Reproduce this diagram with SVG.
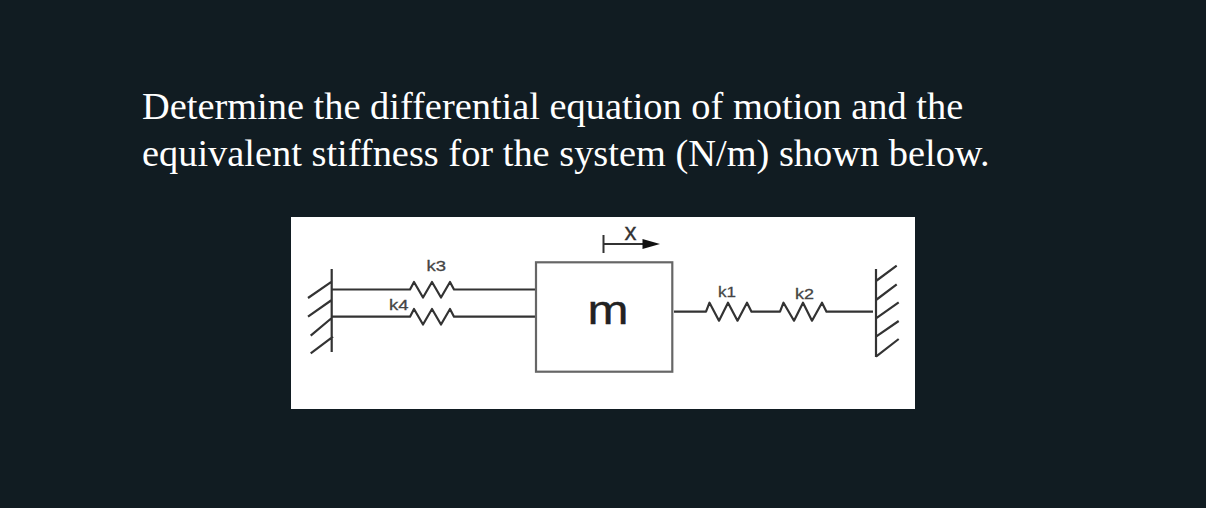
<svg xmlns="http://www.w3.org/2000/svg" width="1206" height="508" viewBox="0 0 1206 508">
<defs><style>
.t{font-family:"Liberation Serif",serif;font-size:38.4px;fill:#fff}
.l{font-family:"Liberation Sans",Arial,sans-serif;font-size:15.5px;fill:#444;stroke:#444;stroke-width:.3}
.w{fill:none;stroke:#333;stroke-width:2.200;stroke-linejoin:round}
</style></defs>
<rect width="1206" height="508" fill="#111c22"/>
<g id="heading">
<text class="t" x="142" y="118.500">Determine the differential equation of motion and the</text>
<text class="t" x="142" y="165.500">equivalent stiffness for the system (N/m) shown below.</text>
</g>
<g id="panel"><rect x="291" y="217" width="624" height="192" fill="#fff"/></g>
<g id="wall-left" class="w">
<path d="M331.700 269V352M331.700 281.700L308 298M331.700 300L308 316.700M331.700 318L310.700 335.700M333 336.700L310.700 353.300"/>
</g>
<g id="wall-right" class="w">
<path d="M876 269V357M876 281L896.700 265.700M876 300L896.700 284.300M876 318.300L898.700 302.300M876 336.700L898.700 321M876 356.700L898.700 339"/>
</g>
<g id="connectors">
<path id="spring-k3" class="w" d="M331 289.500H410L414 282L423 297.500L432 282L441 297.500L450 282L454 289.500H536"/>
<path id="spring-k4" class="w" d="M331 316.700H410L414 309L423 324.500L432 309L441 324.500L450 309L454 316.700H536"/>
<path id="spring-k1-k2" class="w" d="M674 311.700H706L709.500 302.700L719 320.700L728 302.700L737.500 320.700L747 302.700L751.500 311.700H780L783.500 302.700L794 320.700L803 302.700L812 320.700L822 302.700L826.500 311.700H873"/>
</g>
<g id="mass">
<rect x="536" y="262.300" width="136.300" height="109.400" fill="#fff" stroke="#666" stroke-width="2.200"/>
<text x="587.500" y="324" font-family="'Liberation Sans',Arial,sans-serif" font-size="41" fill="#222" stroke="#222" stroke-width=".4" textLength="41" lengthAdjust="spacingAndGlyphs">m</text>
</g>
<g id="displacement">
<path d="M603.500 235V253M604 244H645" stroke="#333" stroke-width="2" fill="none"/>
<path d="M642.500 239L660 244L642.500 249Z" fill="#111"/>
<text x="630.500" y="240" font-family="'Liberation Sans',Arial,sans-serif" font-size="24" fill="#333" stroke="#333" stroke-width=".3" text-anchor="middle">x</text>
</g>
<g id="label-k3"><text class="l" x="426.500" y="271" textLength="19.500" lengthAdjust="spacingAndGlyphs">k3</text></g>
<g id="label-k4"><text class="l" x="389" y="310" textLength="19.500" lengthAdjust="spacingAndGlyphs">k4</text></g>
<g id="label-k1"><text class="l" x="718" y="297" textLength="18" lengthAdjust="spacingAndGlyphs">k1</text></g>
<g id="label-k2"><text class="l" x="795" y="299" textLength="19" lengthAdjust="spacingAndGlyphs">k2</text></g>
</svg>
